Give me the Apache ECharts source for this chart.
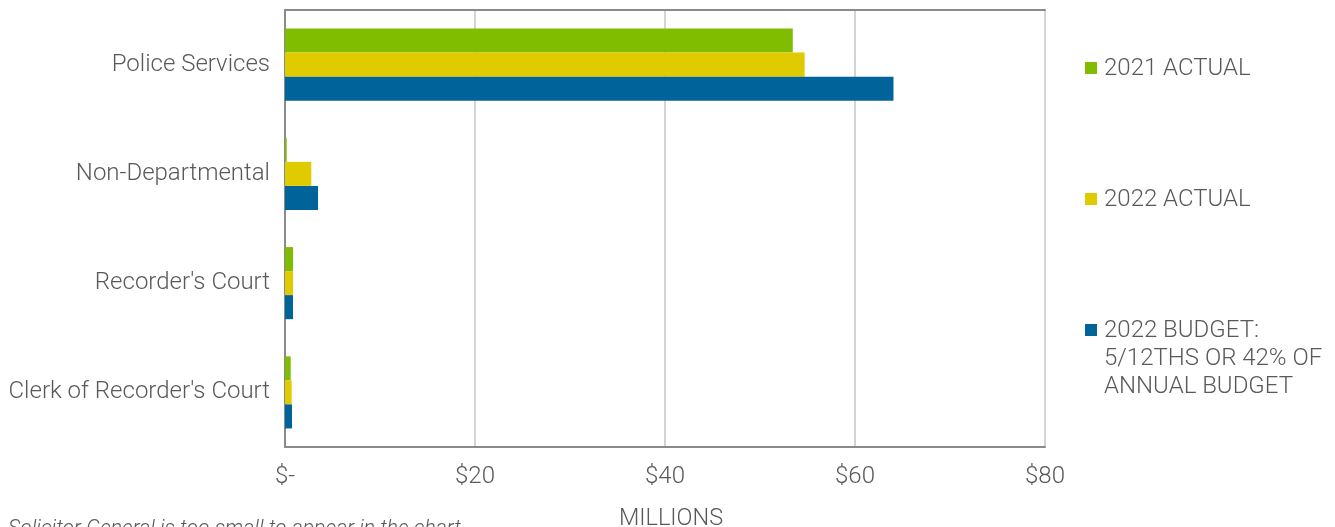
<!DOCTYPE html>
<html>
<head>
<meta charset="utf-8">
<script src="https://cdn.jsdelivr.net/npm/echarts@6/dist/echarts.min.js"></script>
<style>
  html, body { margin: 0; padding: 0; background: #ffffff; }
  #chart { width: 1335px; height: 527px; }
</style>
</head>
<body>
<div id="chart"></div>
<script>
// Department spending, in millions of dollars
const categories = ['Police Services', 'Non-Departmental', "Recorder's Court", "Clerk of Recorder's Court"];
const actual2021 = [53.45, 0.18, 0.84, 0.6];
const actual2022 = [54.7, 2.77, 0.84, 0.7];
const budget2022 = [64.05, 3.48, 0.84, 0.74];
const seriesNames = ['2021 ACTUAL', '2022 ACTUAL', '2022 BUDGET:\n5/12THS OR 42% OF\nANNUAL BUDGET'];
const seriesColors = ['#80bd00', '#e0cb00', '#00639a'];
const xTicks = [0, 20, 40, 60, 80];
const footnote = 'Solicitor General is too small to appear in the chart.';

const textColor = '#595959';
const frameColor = '#8a8a8a';
const font = 'Roboto';

const chart = echarts.init(document.getElementById('chart'), null, { renderer: 'canvas' });

// Legend drawn as swatch + text, the swatch aligned with the first text line
const legendTops = [55, 186, 317];
const legendGraphics = [];
seriesNames.forEach((name, i) => {
  legendGraphics.push({
    type: 'rect', left: 1085, top: legendTops[i] + 7,
    shape: { width: 12, height: 12 },
    style: { fill: seriesColors[i] }
  });
  legendGraphics.push({
    type: 'text', left: 1104, top: legendTops[i],
    style: { text: name, fill: textColor, font: '300 24px ' + font, lineHeight: 28 }
  });
});

const data = [actual2021, actual2022, budget2022];
const frameLine = { show: true, lineStyle: { color: frameColor, width: 2 } };

chart.setOption({
  animation: false,
  grid: {
    left: 285, right: 290, top: 10, bottom: 80,
    outerBoundsMode: 'none', containLabel: false
  },
  xAxis: [{
    type: 'value', min: xTicks[0], max: xTicks[xTicks.length - 1], interval: 20,
    name: 'MILLIONS', nameLocation: 'middle', nameGap: 60,
    nameTextStyle: {
      color: textColor, fontFamily: font, fontWeight: 300, fontSize: 23.5,
      padding: [0, 0, 0, 12]
    },
    axisLine: frameLine, axisTick: { show: false },
    axisLabel: {
      color: textColor, fontFamily: font, fontWeight: 300, fontSize: 24, margin: 18,
      formatter: v => v === 0 ? '$-' : '$' + v
    },
    splitLine: { show: true, lineStyle: { color: '#d4d4d4', width: 2 } }
  }, {
    // top edge of the plot frame
    type: 'value', position: 'top', min: xTicks[0], max: xTicks[xTicks.length - 1], interval: 20,
    axisLine: frameLine, axisTick: { show: false }, axisLabel: { show: false },
    splitLine: { show: false }
  }],
  yAxis: [{
    type: 'category', data: categories, inverse: true,
    axisLine: frameLine, axisTick: { show: false },
    axisLabel: { color: textColor, fontFamily: font, fontWeight: 300, fontSize: 24, margin: 15 }
  }, {
    // right edge of the plot frame
    type: 'category', data: categories, inverse: true, position: 'right',
    axisLine: frameLine, axisTick: { show: false }, axisLabel: { show: false }
  }],
  series: data.map((vals, i) => ({
    type: 'bar', name: seriesNames[i], data: vals,
    barGap: '0%', barCategoryGap: '34%',
    itemStyle: { color: seriesColors[i] }
  })),
  graphic: legendGraphics.concat([
    {
      type: 'text', left: 8, top: 519,
      style: { text: footnote, fill: textColor, font: 'italic 300 21.2px ' + font }
    }
  ])
});
</script>
</body>
</html>
